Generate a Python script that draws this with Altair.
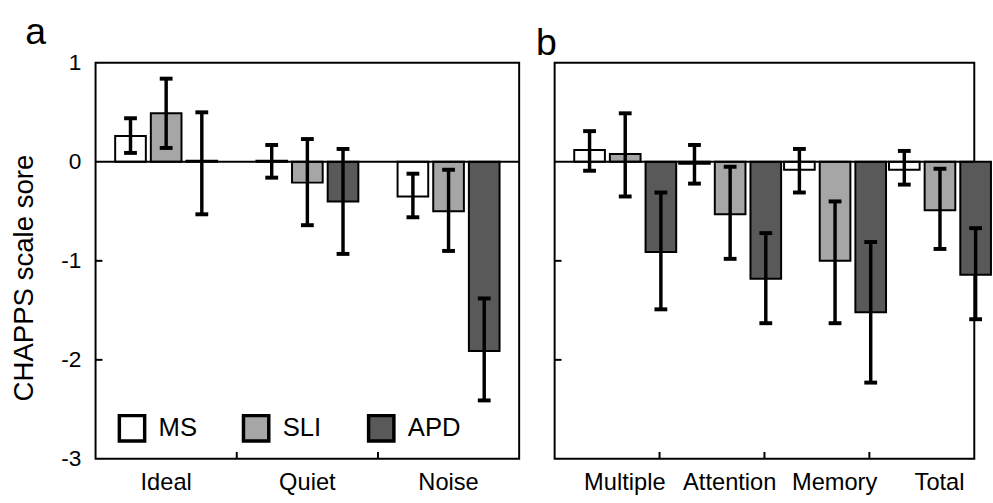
import altair as alt
import pandas as pd

FONT = "Liberation Sans"

groups = ["MS", "SLI", "APD"]
group_colors = ["#ffffff", "#a6a6a6", "#595959"]

# Panel a
conds_a = ["Ideal", "Quiet", "Noise"]
a_ms = [0.26, 0.01, -0.35]
a_ms_lo = [0.09, -0.16, -0.56]
a_ms_hi = [0.44, 0.17, -0.12]
a_sli = [0.49, -0.21, -0.50]
a_sli_lo = [0.14, -0.64, -0.90]
a_sli_hi = [0.84, 0.23, -0.08]
a_apd = [0.01, -0.40, -1.91]
a_apd_lo = [-0.53, -0.93, -2.41]
a_apd_hi = [0.50, 0.13, -1.38]

# Panel b
conds_b = ["Multiple", "Attention", "Memory", "Total"]
b_ms = [0.12, -0.02, -0.08, -0.08]
b_ms_lo = [-0.09, -0.22, -0.31, -0.23]
b_ms_hi = [0.31, 0.17, 0.13, 0.11]
b_sli = [0.08, -0.53, -1.00, -0.49]
b_sli_lo = [-0.35, -0.98, -1.63, -0.88]
b_sli_hi = [0.49, -0.05, -0.40, -0.07]
b_apd = [-0.91, -1.18, -1.52, -1.14]
b_apd_lo = [-1.49, -1.63, -2.23, -1.59]
b_apd_hi = [-0.31, -0.72, -0.81, -0.67]

y_ticks = [-1, -2]
y_labels = [-3, -2, -1, 0, 1]

WA, WB, H = 430, 426, 402


def make_df(conds, series):
    rows = []
    for g, (vals, lo, hi) in zip(groups, series):
        for c, v, l, h in zip(conds, vals, lo, hi):
            rows.append({"cond": c, "group": g, "value": v, "lo": l, "hi": h})
    return pd.DataFrame(rows)


df_a = make_df(conds_a, [(a_ms, a_ms_lo, a_ms_hi), (a_sli, a_sli_lo, a_sli_hi),
                         (a_apd, a_apd_lo, a_apd_hi)])
df_b = make_df(conds_b, [(b_ms, b_ms_lo, b_ms_hi), (b_sli, b_sli_lo, b_sli_hi),
                         (b_apd, b_apd_lo, b_apd_hi)])


def panel(df, conds, W, title, title_dx, show_y, show_legend, off_pi, off_po, off_align,
          label_offset):
    xscale = alt.Scale(domain=conds, paddingInner=0, paddingOuter=0)
    xenc = alt.X("cond:N", scale=xscale, sort=conds,
                 axis=alt.Axis(title=None, labelAngle=0, ticks=False, domain=False,
                               labelPadding=12, labelFontSize=24, labelColor="black",
                               labelFont=FONT, labelOffset=label_offset))
    xoff = alt.XOffset("group:N", sort=groups,
                       scale=alt.Scale(domain=groups, paddingInner=off_pi,
                                       paddingOuter=off_po, align=off_align))
    yscale = alt.Scale(domain=[-3, 1], nice=False, zero=False)
    if show_y:
        yaxis = alt.Axis(title="CHAPPS scale sore", values=y_labels, ticks=False, domain=False,
                         grid=False, labelPadding=15, labelFontSize=23, labelColor="black",
                         labelFont=FONT, labelExpr="'' + datum.value",
                         titleFont=FONT, titleFontSize=28,
                         titleFontWeight="normal", titleColor="black", titlePadding=23,
                         titleY=218)
    else:
        yaxis = None
    legend = None
    if show_legend:
        legend = alt.Legend(title=None, orient="none", legendX=22, legendY=356,
                            direction="horizontal", symbolType="square", symbolSize=660,
                            symbolStrokeColor="black", symbolStrokeWidth=3.5,
                            labelFontSize=26, labelFont=FONT, labelColor="black",
                            labelOffset=12, columnPadding=40, gridAlign="none", padding=0)
    color = alt.Color("group:N", sort=groups,
                      scale=alt.Scale(domain=groups, range=group_colors), legend=legend)

    base = alt.Chart(df)
    bars = base.mark_bar(stroke="black", strokeWidth=2).encode(
        x=xenc, xOffset=xoff,
        y=alt.Y("value:Q", scale=yscale, axis=yaxis),
        color=color,
    )
    err = base.mark_rule(color="black", strokeWidth=3.5).encode(
        x=alt.X("cond:N", scale=xscale, sort=conds), xOffset=xoff,
        y=alt.Y("lo:Q", scale=yscale), y2="hi:Q",
    )
    cap_lo = base.mark_tick(color="black", size=13, thickness=4, opacity=1).encode(
        x=alt.X("cond:N", scale=xscale, sort=conds), xOffset=xoff,
        y=alt.Y("lo:Q", scale=yscale),
    )
    cap_hi = base.mark_tick(color="black", size=13, thickness=4, opacity=1).encode(
        x=alt.X("cond:N", scale=xscale, sort=conds), xOffset=xoff,
        y=alt.Y("hi:Q", scale=yscale),
    )
    zero = alt.Chart(pd.DataFrame({"z": [0]})).mark_rule(color="black", strokeWidth=2).encode(
        y=alt.Y("z:Q", scale=yscale),
    )
    yt = alt.Chart(pd.DataFrame({"v": y_ticks})).mark_rule(color="black", strokeWidth=2).encode(
        y=alt.Y("v:Q", scale=yscale), x=alt.value(0), x2=alt.value(7),
    )
    xt = alt.Chart(pd.DataFrame({"cond": conds[1:]})).mark_rule(color="black", strokeWidth=2).encode(
        x=alt.X("cond:N", scale=xscale, sort=conds, bandPosition=0),
        y=alt.value(H), y2=alt.value(H - 7),
    )
    return alt.layer(bars, zero, err, cap_lo, cap_hi, yt, xt).properties(
        width=W, height=H,
        title=alt.TitleParams(title, anchor="start", fontSize=38, font=FONT,
                              fontWeight="normal", color="black", dx=title_dx, offset=0),
    )


pa = panel(df_a, conds_a, WA, "a", 15, True, True, 0.14, 0.55, 0.5, 0)
pb = panel(df_b, conds_b, WB, "b", -18, False, False, 0.16, 0.34, 0.8, 18)

chart = alt.hconcat(pa, pb, spacing=14).resolve_scale(color="independent").properties(
    padding={"left": 9, "top": 10, "right": 0, "bottom": 0},
).configure(
    background="white",
    view=alt.ViewConfig(stroke="black", strokeWidth=2),
)

chart.save("out.html", embed_options={"renderer": "svg", "actions": False})
